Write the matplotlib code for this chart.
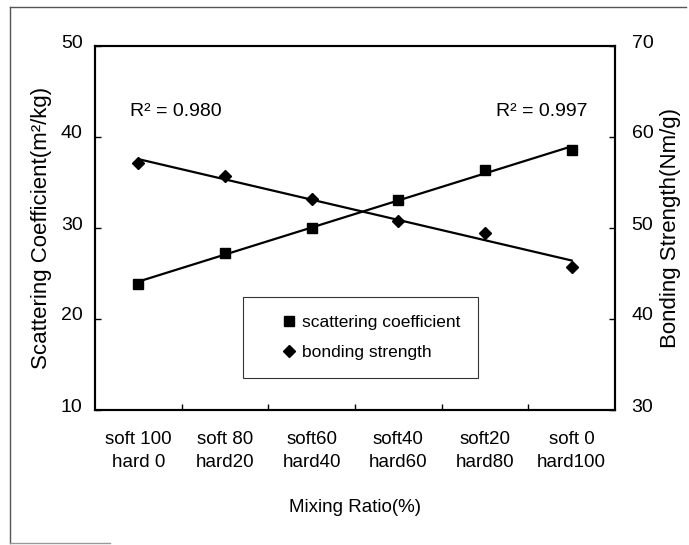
import numpy as np
import matplotlib
matplotlib.use("Agg")
import matplotlib.pyplot as plt
from matplotlib.lines import Line2D
import matplotlib.transforms as mtransforms

plt.rcParams['font.family'] = ['Liberation Sans', 'DejaVu Sans']

categories = ["soft 100\nhard 0", "soft 80\nhard20", "soft60\nhard40",
              "soft40\nhard60", "soft20\nhard80", "soft 0\nhard100"]
scattering = [23.9, 27.25, 30.0, 33.1, 36.4, 38.6]
bonding = [57.1, 55.7, 53.2, 50.8, 49.5, 45.7]
left_ticks = [10, 20, 30, 40, 50]
right_ticks = [30, 40, 50, 60, 70]
r2_bond = "R² = 0.980"
r2_scat = "R² = 0.997"

W, H = 689, 545
fig = plt.figure(figsize=(W / 100, H / 100), dpi=100)
ax = fig.add_axes([95 / W, 1 - 410 / H, 520 / W, 364 / H])
ax2 = ax.twinx()

x = np.arange(len(categories))

# scattering coefficient (left axis)
ax.plot(x, scattering, linestyle='none', marker='s', markersize=7.5,
        color='black', label='scattering coefficient')
p1 = np.polyfit(x, scattering, 1)
ax.plot(x, np.polyval(p1, x), color='black', lw=1.6)

# bonding strength (right axis)
ax2.plot(x, bonding, linestyle='none', marker='D', markersize=6.5,
         color='black', label='bonding strength')
p2 = np.polyfit(x, bonding, 1)
ax2.plot(x, np.polyval(p2, x), color='black', lw=1.6)

ax.set_xlim(-0.5, len(categories) - 0.5)
ax.set_ylim(left_ticks[0], left_ticks[-1])
ax2.set_ylim(right_ticks[0], right_ticks[-1])

ax.set_xticks(np.arange(0.5, len(categories) - 0.5, 1.0))
ax.set_xticklabels([])
ax.set_xticks(x, minor=True)
ax.set_xticklabels(categories, minor=True, fontsize=13.5, linespacing=1.5)
ax.tick_params(axis='x', which='major', direction='in', length=4, width=1)
ax.tick_params(axis='x', which='minor', length=0, pad=15)

ax.set_yticks(left_ticks)
ax.tick_params(axis='y', direction='in', length=4, width=1, labelsize=14, pad=9)
ax2.set_yticks(right_ticks)
ax2.tick_params(axis='y', direction='in', length=4, width=1, labelsize=14, pad=12)

off = mtransforms.ScaledTranslation(0, 5 / 100, fig.dpi_scale_trans)
for lab in ax.get_yticklabels() + ax2.get_yticklabels():
    lab.set_transform(lab.get_transform() + off)

for a in (ax, ax2):
    for s in a.spines.values():
        s.set_linewidth(1.5)
        s.set_color('black')

ax.set_xlabel("Mixing Ratio(%)", fontsize=13.5, labelpad=20)
ax.set_ylabel("Scattering Coefficient(m²/kg)", fontsize=16, labelpad=6)
ax2.set_ylabel("Bonding Strength(Nm/g)", fontsize=16, labelpad=5)

ax.text(130 / W, 1 - 111 / H, r2_bond, transform=fig.transFigure,
        fontsize=14, ha='left', va='center')
ax.text(587 / W, 1 - 111 / H, r2_scat, transform=fig.transFigure,
        fontsize=14, ha='right', va='center')

h1, l1 = ax.get_legend_handles_labels()
h2, l2 = ax2.get_legend_handles_labels()
leg = ax2.legend(h1 + h2, l1 + l2, loc='upper left',
                 bbox_to_anchor=(0.285, 0.091, 0.452, 0.219), mode='expand',
                 borderaxespad=0, fontsize=12.5, frameon=True, fancybox=False,
                 handlelength=3.3, handletextpad=-0.9, labelspacing=0.9,
                 borderpad=1.0)
leg.get_frame().set_edgecolor('black')
leg.get_frame().set_linewidth(0.8)

# outer frame (partial, as in scan)
fig.lines.append(Line2D([10 / W, 686 / W], [1 - 7 / H, 1 - 7 / H],
                        transform=fig.transFigure, color='#555555', lw=1))
fig.lines.append(Line2D([10 / W, 10 / W], [1 - 7 / H, 1 - 543 / H],
                        transform=fig.transFigure, color='#555555', lw=1))
fig.lines.append(Line2D([10 / W, 110 / W], [1 - 543 / H, 1 - 543 / H],
                        transform=fig.transFigure, color='#999999', lw=1))

fig.savefig("out.png", dpi=100)
